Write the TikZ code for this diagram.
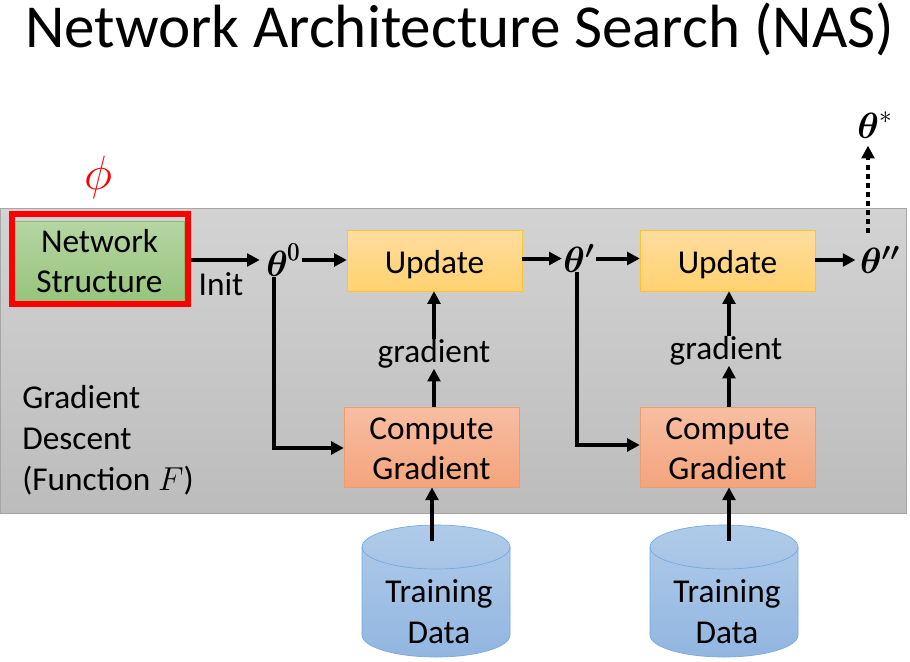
\documentclass[tikz,border=0pt]{standalone}
\usepackage{amsmath,amssymb}
\usepackage[no-math]{fontspec}
\usepackage{tikz}
\usetikzlibrary{arrows.meta}
\setmainfont{Carlito}

\definecolor{bandtop}{HTML}{D3D3D3}
\definecolor{bandbot}{HTML}{BCBCBC}
\definecolor{HTMLupd}{HTML}{FFC233}
\definecolor{HTMLupdtop}{HTML}{FFDD9E}
\definecolor{HTMLupdbot}{HTML}{FFD170}
\definecolor{HTMLgrad}{HTML}{EE9C6C}
\definecolor{HTMLgradtop}{HTML}{F7BEA2}
\definecolor{HTMLgradbot}{HTML}{F4A47C}
\definecolor{HTMLgreen}{HTML}{8CBC6E}
\definecolor{HTMLgreentop}{HTML}{B5D5A3}
\definecolor{HTMLgreenbot}{HTML}{97C47C}
\definecolor{HTMLdrum}{HTML}{74A8DC}
\definecolor{HTMLdrumtop}{HTML}{B0CBE9}
\definecolor{HTMLdrumbot}{HTML}{92B6E1}

\tikzset{
    flow/.style = {draw=black, line width=3pt, -{Triangle[length=9.5pt,width=9.5pt]}},
    txt/.style = {font=\fontsize{25}{30.75}\selectfont, align=center, inner sep=0pt},
    param/.style = {font=\fontsize{27}{30}\selectfont, inner sep=0pt, scale=1.1},
    box/.style = {draw, line width=0.5pt, minimum width=131pt, align=center,
        font=\fontsize{25}{30}\selectfont, inner sep=0pt},
    updatebox/.style = {box, minimum height=45.5pt, draw=HTMLupd, text height=24.5pt, text depth=5pt,
        top color=HTMLupdtop, bottom color=HTMLupdbot},
    gradbox/.style = {box, minimum height=60pt, draw=HTMLgrad,
        top color=HTMLgradtop, bottom color=HTMLgradbot},
    drum/.style = {draw=HTMLdrum, line width=0.5pt, top color=HTMLdrumtop, bottom color=HTMLdrumbot}
}

\begin{document}
\begin{tikzpicture}[x=0.75pt,y=-0.75pt]
    \useasboundingbox (0,0) rectangle (910,661);

    % title and grey band
    \node (title) at (459.5,29) [font=\fontsize{45.8}{50}\selectfont, inner sep=0pt] {Network Architecture Search (NAS)};
    \node (band) at (453,360.5) [draw=gray!70, line width=0.5pt, minimum width=679.5pt, minimum height=228.75pt,
        inner sep=0pt, top color=bandtop, bottom color=bandbot] {};

    % network structure
    \node (phi) at (98,177) [text=red, font=\fontsize{24}{24}\selectfont, inner sep=0pt, scale=1.45] {$\phi$};
    \node (structure) at (99.5,261) [box, minimum width=127.5pt, minimum height=60pt, draw=HTMLgreen,
        top color=HTMLgreentop, bottom color=HTMLgreenbot] {Network\\Structure};
    \node (redbox) at (100,259) [draw=red, line width=4.5pt, minimum width=132pt, minimum height=67.5pt, inner sep=0pt] {};
    \node (init) at (221,284) [txt] {Init};
    \node (descent) at (22,440) [txt, align=left, anchor=west] {Gradient\\Descent\\(Function $F$)};

    % parameters
    \node (theta0) at (283.5,260) [param, minimum width=32pt] {$\boldsymbol{\theta}^{\pmb{0}}$};
    \node (theta1) at (579,258.5) [param, minimum width=23pt] {$\boldsymbol{\theta'}$};
    \node (theta2) at (880,260) [param, minimum width=33pt] {$\boldsymbol{\theta''}$};
    \node (thetas) at (875,125) [param] {$\boldsymbol{\theta}^{*}$};

    % update and gradient
    \node (update1) at (434.5,260.5) [updatebox] {Update};
    \node (update2) at (727.5,260.5) [updatebox] {Update};
    \node (grad1) at (434,354) [txt] {gradient};
    \node (grad2) at (726,351) [txt] {gradient};
    \node (compute1) at (431.5,447) [gradbox] {\rule{0pt}{19.5pt}Compute\\Gradient};
    \node (compute2) at (727.5,447) [gradbox] {\rule{0pt}{19.5pt}Compute\\Gradient};

    % training data
    \foreach \x/\n in {436/1,724/2} {
        \path [drum] (\x-74,547) -- (\x-74,635)
            arc [start angle=180, end angle=360, x radius=74, y radius=-22]
            -- (\x+74,547)
            arc [start angle=0, end angle=180, x radius=74, y radius=-22] -- cycle;
        \draw [draw=HTMLdrum, line width=0.5pt] (\x-74,547)
            arc [start angle=180, end angle=360, x radius=74, y radius=-22];
    }
    \node (data1) at (439,612) [txt] {Training\\Data};
    \node (data2) at (727,612) [txt] {Training\\Data};

    \coordinate (bend0) at (274,448);
    \coordinate (bend1) at (577,445);
    \coordinate (top1) at (432,541);
    \coordinate (top2) at (729,541);
    \coordinate (dot2) at (868,233);

    % arrows
    \draw [flow] (redbox.east |- theta0) -- (theta0.west);
    \draw [flow] ([xshift=-4pt]theta0.east) -- (update1.west |- theta0);
    \draw [flow] (update1.east |- theta1) -- (theta1.west);
    \draw [flow] (theta1.east) -- (update2.west |- theta1);
    \draw [flow] (update2.east |- theta2) -- (theta2.west);
    \draw [flow, dash pattern=on 3.4pt off 3.4pt] (dot2) -- ([yshift=-5pt]thetas.south -| dot2);

    \draw [flow] (theta0.south -| bend0) -- (bend0) -- (compute1.west |- bend0);
    \draw [flow] (theta1.south -| bend1) -- (bend1) -- (compute2.west |- bend1);

    \draw [flow] (compute1.north -| grad1) -- (grad1.south);
    \draw [flow] (grad1.north) -- (update1.south -| grad1);
    \draw [flow] (compute2.north -| top2) -- (grad2.south -| top2);
    \draw [flow] (grad2.north -| top2) -- (update2.south -| top2);

    \draw [flow] (top1) -- (compute1.south -| top1);
    \draw [flow] (top2) -- (compute2.south -| top2);
\end{tikzpicture}
\end{document}
